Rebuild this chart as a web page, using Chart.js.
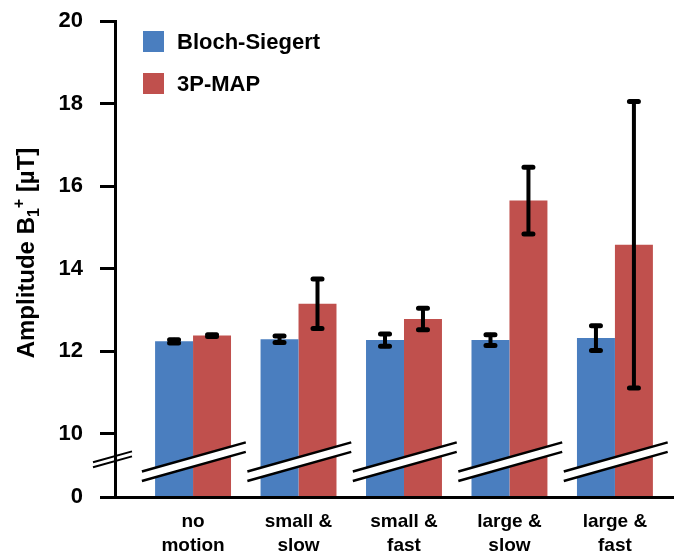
<!DOCTYPE html>
<html>
<head>
<meta charset="utf-8">
<script src="https://cdn.jsdelivr.net/npm/chart.js@4.4.1/dist/chart.umd.min.js"></script>
<style>
  html, body { margin: 0; padding: 0; background: #fff; }
  #wrap { width: 674px; height: 556px; }
</style>
</head>
<body>
<div id="wrap"><canvas id="b1Chart" width="674" height="556"></canvas></div>
<script>
const categories = [['no', 'motion'], ['small &', 'slow'], ['small &', 'fast'], ['large &', 'slow'], ['large &', 'fast']];
const blochSiegert = [12.24, 12.29, 12.27, 12.27, 12.32];
const blochSiegertErr = [0.04, 0.08, 0.15, 0.13, 0.30];
const threePMap = [12.38, 13.15, 12.78, 15.65, 14.58];
const threePMapErr = [0.02, 0.60, 0.26, 0.81, 3.47];

// broken y axis: "0" is drawn at yZero, everything from 10 upwards is to scale
const yZero = 8.47;
const yBreak = 9.32;
const yTickValues = [yZero, 10, 12, 14, 16, 18, 20];
const yTickLabels = ['0', '10', '12', '14', '16', '18', '20'];

const FONT = "'Liberation Sans', Arial, Helvetica, sans-serif";
Chart.defaults.font.family = FONT;
Chart.defaults.color = '#000';

const errorBars = {
    id: 'errorBars',
    afterDatasetsDraw(chart) {
        const ctx = chart.ctx;
        const y = chart.scales.y;
        ctx.save();
        ctx.strokeStyle = '#000';
        ctx.lineCap = 'round';
        chart.data.datasets.forEach((ds, di) => {
            const meta = chart.getDatasetMeta(di);
            meta.data.forEach((bar, i) => {
                const v = ds.data[i].y;
                const e = ds.errors[i];
                const top = y.getPixelForValue(v + e);
                const bot = y.getPixelForValue(v - e);
                ctx.lineWidth = 4;
                ctx.beginPath();
                ctx.moveTo(bar.x, top);
                ctx.lineTo(bar.x, bot);
                ctx.stroke();
                ctx.lineWidth = 5;
                ctx.beginPath();
                ctx.moveTo(bar.x - 4.5, top);
                ctx.lineTo(bar.x + 4.5, top);
                ctx.moveTo(bar.x - 4.5, bot);
                ctx.lineTo(bar.x + 4.5, bot);
                ctx.stroke();
            });
        });
        ctx.restore();
    }
};

const breakMarks = {
    id: 'breakMarks',
    afterDatasetsDraw(chart) {
        const ctx = chart.ctx;
        const { x, y } = chart.scales;
        const slope = 0.28;
        const drawPair = (cx, x0, x1, yMid, gap, lw, fill) => {
            const yAt = (xx, off) => yMid - slope * (xx - cx) + off;
            if (fill) {
                ctx.fillStyle = '#fff';
                ctx.beginPath();
                ctx.moveTo(x0, yAt(x0, -gap / 2));
                ctx.lineTo(x1, yAt(x1, -gap / 2));
                ctx.lineTo(x1, yAt(x1, gap / 2));
                ctx.lineTo(x0, yAt(x0, gap / 2));
                ctx.closePath();
                ctx.fill();
            }
            ctx.strokeStyle = '#000';
            ctx.lineWidth = lw;
            ctx.beginPath();
            ctx.moveTo(x0, yAt(x0, -gap / 2));
            ctx.lineTo(x1, yAt(x1, -gap / 2));
            ctx.moveTo(x0, yAt(x0, gap / 2));
            ctx.lineTo(x1, yAt(x1, gap / 2));
            ctx.stroke();
        };
        ctx.save();
        const yMid = y.getPixelForValue(yBreak);
        categories.forEach((c, i) => {
            const cx = x.getPixelForValue(i);
            drawPair(cx, x.getPixelForValue(i - 0.485), x.getPixelForValue(i + 0.5), yMid, 9.5, 2.5, true);
        });
        const ax = chart.chartArea.left;
        drawPair(ax, ax - 22, ax + 17, y.getPixelForValue(yBreak + 0.08), 5, 2, false);
        ctx.restore();
    }
};

const seriesLegend = {
    id: 'seriesLegend',
    afterDraw(chart) {
        const ctx = chart.ctx;
        const { left, top } = chart.chartArea;
        ctx.save();
        ctx.font = 'bold 22px ' + FONT;
        ctx.textBaseline = 'middle';
        chart.data.datasets.forEach((ds, i) => {
            const yy = top + 10 + i * 42;
            ctx.fillStyle = ds.backgroundColor;
            ctx.fillRect(left + 28, yy, 21, 21);
            ctx.fillStyle = '#000';
            ctx.fillText(ds.label, left + 62, yy + 11.5);
        });
        ctx.restore();
    }
};

const axisTitle = {
    id: 'axisTitle',
    afterDraw(chart) {
        const ctx = chart.ctx;
        const { top, bottom } = chart.chartArea;
        const big = 'bold 24px ' + FONT;
        const small = 'bold 16px ' + FONT;
        const parts = [
            { t: 'Amplitude B', f: big, dy: 0 },
            { t: '1', f: small, dy: 5 },
            { t: '+', f: small, dy: -10 },
            { t: ' [\u00b5T]', f: big, dy: 0 }
        ];
        ctx.save();
        let total = 0;
        parts.forEach(p => { ctx.font = p.f; p.w = ctx.measureText(p.t).width; total += p.w; });
        ctx.translate(34, (top + bottom) / 2 - 6);
        ctx.rotate(-Math.PI / 2);
        ctx.fillStyle = '#000';
        ctx.textBaseline = 'alphabetic';
        let xx = -total / 2;
        parts.forEach(p => {
            ctx.font = p.f;
            ctx.fillText(p.t, xx, p.dy);
            xx += p.w;
        });
        ctx.restore();
    }
};

const ctx1 = document.getElementById('b1Chart').getContext('2d');
const b1Chart = new Chart(ctx1, {
    type: 'bar',
    data: {
        datasets: [{
            label: 'Bloch-Siegert',
            data: blochSiegert.map((v, i) => ({ x: i, y: v })),
            errors: blochSiegertErr,
            backgroundColor: '#4a7ebf',
            borderWidth: 0,
            base: yZero,
            categoryPercentage: 0.72,
            barPercentage: 1.0
        }, {
            label: '3P-MAP',
            data: threePMap.map((v, i) => ({ x: i, y: v })),
            errors: threePMapErr,
            backgroundColor: '#c0504d',
            borderWidth: 0,
            base: yZero,
            categoryPercentage: 0.72,
            barPercentage: 1.0
        }]
    },
    options: {
        responsive: false,
        animation: false,
        layout: { padding: { top: 21, left: 0, right: 0, bottom: 0 } },
        plugins: {
            legend: { display: false },
            tooltip: { enabled: false }
        },
        scales: {
            x: {
                type: 'linear',
                min: -0.74,
                max: 4.56,
                offset: false,
                afterBuildTicks: s => { s.ticks = categories.map((c, i) => ({ value: i })); },
                afterFit: s => { s.height = 59; s.paddingLeft = 0; s.paddingRight = 0; },
                ticks: {
                    callback: v => categories[v],
                    font: { size: 19, weight: 'bold', lineHeight: 1.3 },
                    color: '#000',
                    padding: 12,
                    maxRotation: 0,
                    autoSkip: false
                },
                grid: { drawOnChartArea: false, drawTicks: false },
                border: { display: true, color: '#000', width: 3, z: 1 }
            },
            y: {
                min: yZero,
                max: 20,
                afterBuildTicks: s => { s.ticks = yTickValues.map(v => ({ value: v })); },
                afterFit: s => { s.width = 115; s.paddingTop = 0; s.paddingBottom = 0; },
                ticks: {
                    callback: (v, i) => yTickLabels[i],
                    font: { size: 22, weight: 'bold' },
                    color: '#000',
                    padding: 17
                },
                grid: { drawOnChartArea: false, drawTicks: true, tickLength: 15, tickWidth: 3, tickColor: '#000' },
                border: { display: true, color: '#000', width: 3, z: 1 }
            }
        }
    },
    plugins: [breakMarks, errorBars, seriesLegend, axisTitle]
});
</script>
</body>
</html>
